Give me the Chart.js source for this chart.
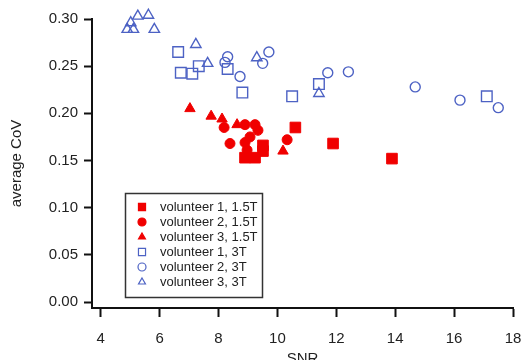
<!DOCTYPE html>
<html>
<head>
<meta charset="utf-8">
<script src="https://cdn.jsdelivr.net/npm/chart.js@4/dist/chart.umd.min.js"></script>
<style>
  body { margin: 0; background: #fff; }
  canvas { display: block; }
</style>
</head>
<body>
<canvas id="cov" width="522" height="360"></canvas>
<script>
// SNR vs average CoV
const v1_15_snr = [8.90, 9.24, 9.51, 9.51, 10.61, 11.89, 13.89];
const v1_15_cov = [0.153, 0.153, 0.166, 0.160, 0.185, 0.168, 0.152];
const v2_15_snr = [8.19, 8.39, 8.90, 9.24, 9.34, 9.07, 8.90, 8.97, 10.33];
const v2_15_cov = [0.185, 0.168, 0.188, 0.188, 0.182, 0.175, 0.169, 0.161, 0.172];
const v3_15_snr = [7.03, 7.75, 8.12, 8.63, 10.19];
const v3_15_cov = [0.205, 0.197, 0.194, 0.188, 0.160];

const v1_3_snr = [6.63, 6.72, 7.11, 7.33, 8.31, 8.81, 10.50, 11.41, 17.11];
const v1_3_cov = [0.265, 0.243, 0.242, 0.250, 0.247, 0.222, 0.218, 0.231, 0.218];
const v2_3_snr = [8.22, 8.31, 8.73, 9.50, 9.71, 11.71, 12.41, 14.68, 16.20, 17.50];
const v2_3_cov = [0.254, 0.260, 0.239, 0.253, 0.265, 0.243, 0.244, 0.228, 0.214, 0.206];
const v3_3_snr = [4.90, 5.11, 5.02, 5.26, 5.62, 5.82, 7.23, 7.63, 9.30, 11.41];
const v3_3_cov = [0.289, 0.289, 0.296, 0.303, 0.304, 0.289, 0.273, 0.253, 0.259, 0.221];

const xTicks = [4, 6, 8, 10, 12, 14, 16, 18];
const yTicks = [0, 0.05, 0.10, 0.15, 0.20, 0.25, 0.30];

const RED = '#f00000';
const BLUE = '#4d62c4';
const FONT = '"Liberation Sans", Arial, Helvetica, sans-serif';

const pts = (xs, ys) => xs.map((x, i) => ({x, y: ys[i]}));

function series(label, xs, ys, style, filled) {
    return {
        label,
        data: pts(xs, ys),
        pointStyle: style,
        pointRadius: style === 'rect' ? 7.5 : (style === 'triangle' ? 6 : 5),
        pointHoverRadius: 6,
        borderWidth: filled ? 1 : 1.4,
        borderColor: filled ? RED : BLUE,
        backgroundColor: filled ? RED : 'rgba(0,0,0,0)',
        showLine: false,
        clip: false,
    };
}

const boxLegend = {
    id: 'boxLegend',
    afterDatasetsDraw(chart) {
        const ctx = chart.ctx;
        ctx.save();
        ctx.strokeStyle = '#333';
        ctx.lineWidth = 1.5;
        ctx.strokeRect(125.5, 193.5, 137, 104);
        ctx.font = '13px ' + FONT;
        ctx.textBaseline = 'middle';
        chart.data.datasets.forEach((ds, i) => {
            const y = 207 + i * 15;
            ctx.fillStyle = ds.backgroundColor;
            ctx.strokeStyle = ds.borderColor;
            ctx.lineWidth = 1.2;
            Chart.helpers.drawPoint(ctx, {
                pointStyle: ds.pointStyle,
                radius: ds.pointStyle === 'rect' ? 5 : 4,
                borderWidth: 1.2,
                rotation: 0,
            }, 142, y);
            ctx.fillStyle = '#222';
            ctx.fillText(ds.label, 160, y + 0.5);
        });
        ctx.restore();
    }
};

new Chart(document.getElementById('cov'), {
    type: 'scatter',
    data: {
        datasets: [
            series('volunteer 1, 1.5T', v1_15_snr, v1_15_cov, 'rect', true),
            series('volunteer 2, 1.5T', v2_15_snr, v2_15_cov, 'circle', true),
            series('volunteer 3, 1.5T', v3_15_snr, v3_15_cov, 'triangle', true),
            series('volunteer 1, 3T', v1_3_snr, v1_3_cov, 'rect', false),
            series('volunteer 2, 3T', v2_3_snr, v2_3_cov, 'circle', false),
            series('volunteer 3, 3T', v3_3_snr, v3_3_cov, 'triangle', false),
        ]
    },
    options: {
        responsive: false,
        animation: false,
        layout: { padding: { top: 19, right: 9, bottom: 0, left: 0 } },
        plugins: {
            legend: { display: false },
            tooltip: { enabled: false },
        },
        scales: {
            x: {
                type: 'linear',
                min: 3.704,
                max: 18,
                afterBuildTicks: s => { s.ticks = xTicks.map(v => ({value: v})); },
                afterFit: s => { s.height = 52; s.paddingLeft = 0; s.paddingRight = 0; },
                grid: { drawOnChartArea: false, drawTicks: true, tickLength: 9, tickWidth: 2, tickColor: '#111' },
                border: { display: true, color: '#111', width: 2 },
                ticks: { color: '#222', font: { family: FONT, size: 15 }, padding: 13, maxRotation: 0 },
                title: { display: true, text: 'SNR', color: '#222', font: { family: FONT, size: 15 }, padding: { top: 0, bottom: -8 } },
            },
            y: {
                type: 'linear',
                min: -0.00636,
                max: 0.30,
                afterBuildTicks: s => { s.ticks = yTicks.map(v => ({value: v})); },
                afterFit: s => { s.width = 92; },
                grid: { drawOnChartArea: false, drawTicks: true, tickLength: 8, tickWidth: 2, tickColor: '#111' },
                border: { display: true, color: '#111', width: 2 },
                ticks: { color: '#222', font: { family: FONT, size: 15 }, padding: 6, callback: v => v.toFixed(2) },
                title: { display: true, text: 'average CoV', color: '#222', font: { family: FONT, size: 15 }, padding: { top: 8, bottom: 0 } },
            }
        }
    },
    plugins: [boxLegend]
});
</script>
</body>
</html>
